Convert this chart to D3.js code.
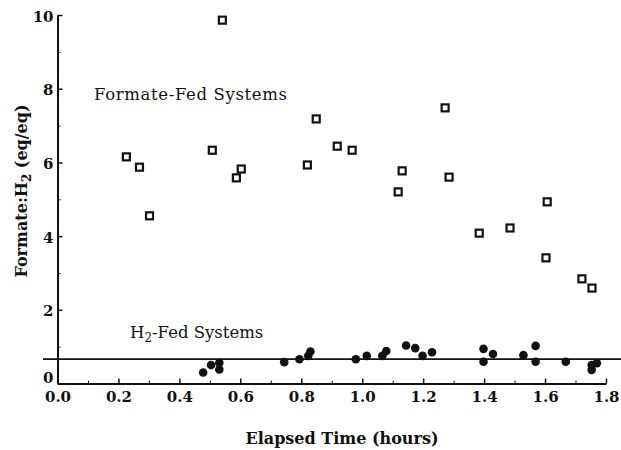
<!DOCTYPE html>
<html>
<head>
<meta charset="utf-8">
<script src="https://cdn.jsdelivr.net/npm/d3@7"></script>
<style>
  body { margin: 0; background: #fff; }
  svg { display: block; }
  text { font-family: "DejaVu Serif", "Liberation Serif", serif; fill: #111; }
  .axis path, .axis line { stroke: #111; }
</style>
</head>
<body>
<div id="chart"></div>
<script>
// Formate-fed systems (open squares)
const formateTime  = [0.226, 0.269, 0.302, 0.508, 0.541, 0.587, 0.603, 0.820, 0.849, 0.918, 0.967,
                      1.118, 1.131, 1.272, 1.285, 1.384, 1.485, 1.603, 1.607, 1.721, 1.754];
const formateRatio = [6.15, 5.87, 4.55, 6.33, 9.86, 5.58, 5.82, 5.93, 7.18, 6.44, 6.33,
                      5.20, 5.77, 7.48, 5.60, 4.08, 4.22, 3.41, 4.93, 2.84, 2.59];

// H2-fed systems (filled circles)
const h2Time  = [0.478, 0.504, 0.531, 0.531, 0.744, 0.794, 0.823, 0.830, 0.979, 1.015, 1.066, 1.079,
                 1.144, 1.174, 1.198, 1.229, 1.398, 1.398, 1.429, 1.529, 1.569, 1.569, 1.668,
                 1.753, 1.753, 1.770];
const h2Ratio = [0.30, 0.50, 0.56, 0.38, 0.58, 0.66, 0.75, 0.87, 0.66, 0.75, 0.75, 0.88,
                 1.03, 0.96, 0.75, 0.85, 0.94, 0.59, 0.80, 0.77, 1.02, 0.59, 0.59,
                 0.37, 0.50, 0.55];

// Reference line level
const refLevel = 0.66;

// Ticks
const xMajor = [0, 0.2, 0.4, 0.6, 0.8, 1.0, 1.2, 1.4, 1.6, 1.8];
const xMinor = [0.1, 0.3, 0.5, 0.7, 0.9, 1.1, 1.3, 1.5, 1.7];
const yMajor = [0, 2, 4, 6, 8, 10];
const yMinor = [1, 3, 5, 7, 9];

let width = 621, height = 450;

let svg = d3.select('#chart')
    .append('svg')
    .attr('width', width)
    .attr('height', height);

let x = d3.scaleLinear()
    .domain([0, 1.8])
    .range([57.5, 606]);

let y = d3.scaleLinear()
    .domain([0, 10])
    .range([383.5, 15]);

//Eje X
let gx = svg.append('g')
    .attr('class', 'axis')
    .attr('transform', 'translate(0,' + y(0) + ')')
    .call(d3.axisBottom(x).tickValues(xMajor).tickSizeInner(-5).tickSizeOuter(0).tickPadding(8)
        .tickFormat(d3.format('.1f')));
gx.select('.domain').attr('stroke-width', 2);
gx.selectAll('.tick line').attr('stroke-width', 1.5);
gx.selectAll('.tick text').attr('font-size', 15).attr('font-weight', 'bold').attr('fill', '#111');

svg.append('g')
    .attr('class', 'axis')
    .attr('transform', 'translate(0,' + y(0) + ')')
    .call(d3.axisBottom(x).tickValues(xMinor).tickSizeInner(-3).tickSizeOuter(0).tickFormat(''))
    .call(g => g.select('.domain').remove());

//Eje Y
let gy = svg.append('g')
    .attr('class', 'axis')
    .attr('transform', 'translate(' + x(0) + ',0)')
    .call(d3.axisLeft(y).tickValues(yMajor).tickSizeInner(-5).tickSizeOuter(0).tickPadding(4));
gy.select('.domain').attr('stroke-width', 2);
gy.selectAll('.tick line').attr('stroke-width', 1.5);
gy.selectAll('.tick text').attr('font-size', 15).attr('font-weight', 'bold').attr('fill', '#111')
    .attr('dy', d => d == 0 ? '-0.05em' : '0.4em');

svg.append('g')
    .attr('class', 'axis')
    .attr('transform', 'translate(' + x(0) + ',0)')
    .call(d3.axisLeft(y).tickValues(yMinor).tickSizeInner(-3).tickSizeOuter(0).tickFormat(''))
    .call(g => g.select('.domain').remove());

//Linea de referencia
svg.append('line')
    .attr('x1', 43)
    .attr('x2', width)
    .attr('y1', y(refLevel))
    .attr('y2', y(refLevel))
    .attr('stroke', '#111')
    .attr('stroke-width', 1.8);

//Cuadrados
let sq = 7;
svg.append('g')
    .selectAll('rect')
    .data(d3.range(formateTime.length))
    .enter()
    .append('rect')
    .attr('x', i => x(formateTime[i]) - sq / 2)
    .attr('y', i => y(formateRatio[i]) - sq / 2)
    .attr('width', sq)
    .attr('height', sq)
    .attr('fill', '#fff')
    .attr('stroke', '#111')
    .attr('stroke-width', 2.2);

//Circulos
svg.append('g')
    .selectAll('circle')
    .data(d3.range(h2Time.length))
    .enter()
    .append('circle')
    .attr('cx', i => x(h2Time[i]))
    .attr('cy', i => y(h2Ratio[i]))
    .attr('r', 4.3)
    .attr('fill', '#111');

//Etiquetas de series
svg.append('text')
    .attr('x', 94)
    .attr('y', 100)
    .attr('font-size', 16.5)
    .attr('textLength', 193)
    .text('Formate-Fed Systems');

let h2Label = svg.append('text')
    .attr('x', 130)
    .attr('y', 338)
    .attr('font-size', 16.5);
h2Label.append('tspan').text('H');
h2Label.append('tspan').attr('font-size', 12).attr('dy', 4).text('2');
h2Label.append('tspan').attr('dy', -4).text('-Fed Systems');

//Titulos de ejes
svg.append('text')
    .attr('x', 342)
    .attr('y', 444)
    .attr('text-anchor', 'middle')
    .attr('font-size', 16)
    .attr('font-weight', 'bold')
    .text('Elapsed Time (hours)');

let yTitle = svg.append('text')
    .attr('transform', 'translate(27,191) rotate(-90)')
    .attr('text-anchor', 'middle')
    .attr('font-size', 16)
    .attr('font-weight', 'bold');
yTitle.append('tspan').text('Formate:H');
yTitle.append('tspan').attr('font-size', 12).attr('dy', 4).text('2');
yTitle.append('tspan').attr('dy', -4).text(' (eq/eq)');
</script>
</body>
</html>
